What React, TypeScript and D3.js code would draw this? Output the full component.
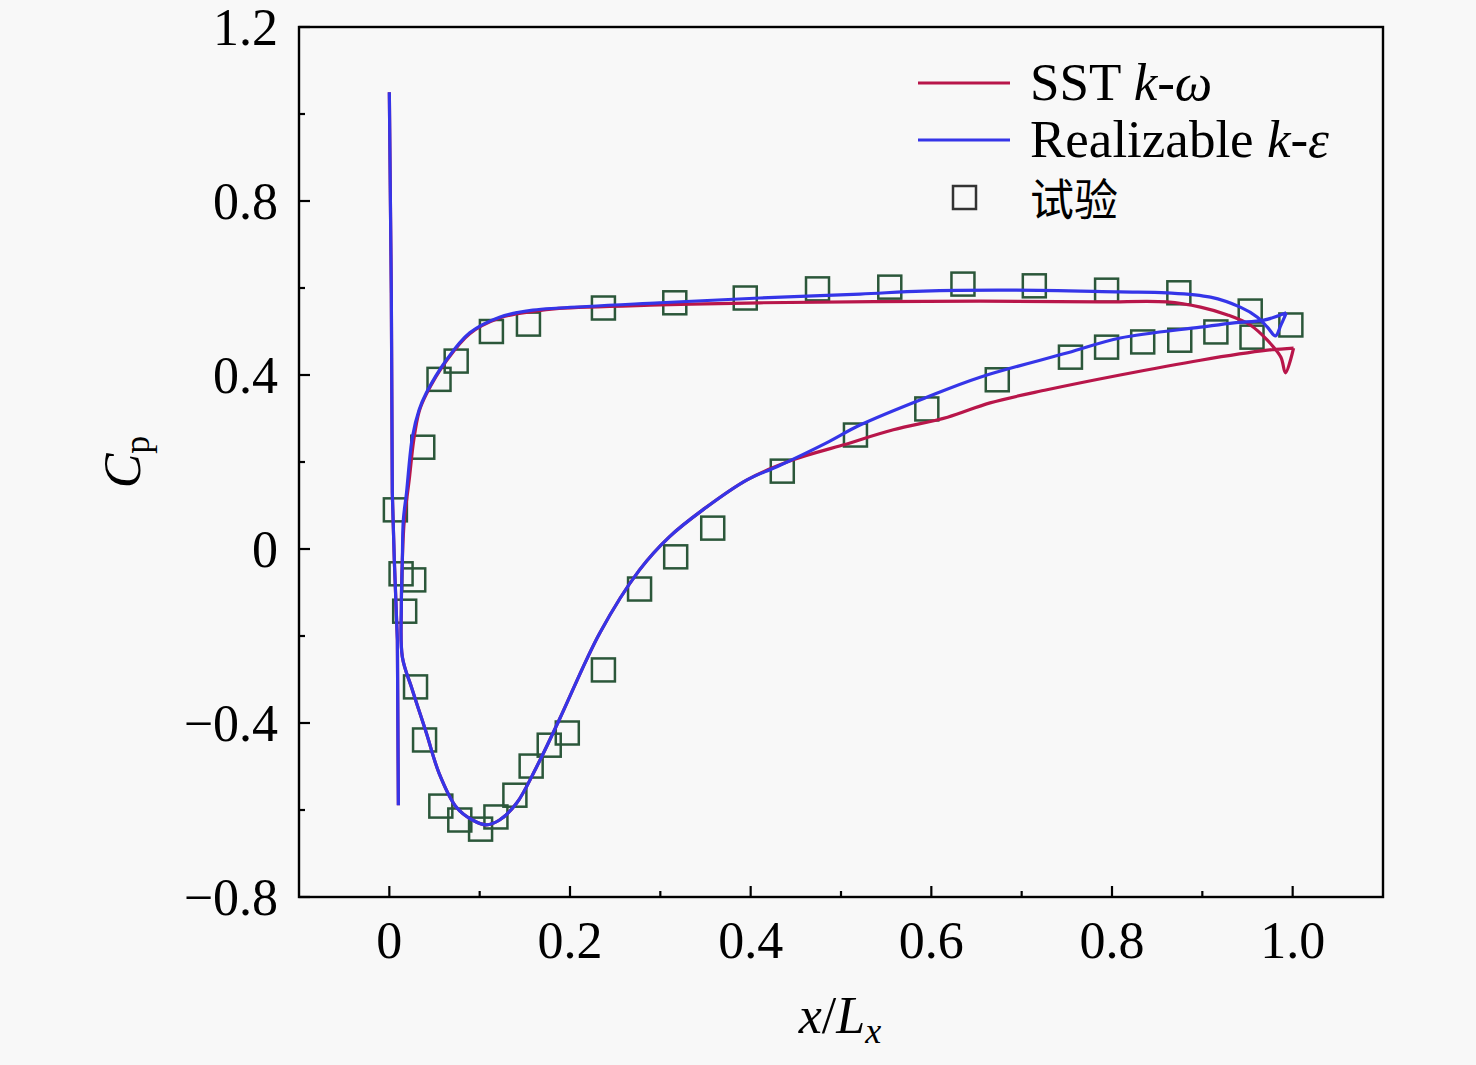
import React, { useEffect, useRef } from 'react';
import * as d3 from 'd3';

const W = 1476;
const H = 1065;
const margin = { left: 299, top: 27, right: 1476 - 1383, bottom: 1065 - 897 };

// axis ticks
const xTicks = [0, 0.2, 0.4, 0.6, 0.8, 1.0];
const xTickLabels = ['0', '0.2', '0.4', '0.6', '0.8', '1.0'];
const xMinor = [0.1, 0.3, 0.5, 0.7, 0.9];
const yTicks = [-0.8, -0.4, 0, 0.4, 0.8, 1.2];
const yTickLabels = ['\u22120.8', '\u22120.4', '0', '0.4', '0.8', '1.2'];
const yMinor = [-0.6, -0.2, 0.2, 0.6, 1.0];

// leading edge spike (both models)
const spikeX = [0.0, 0.0022, 0.0033, 0.0055, 0.0089, 0.010];
const spikeCp = [1.05, 0.588, 0.129, -0.025, -0.209, -0.589];

// Realizable k-epsilon: pressure side TE -> LE, then suction side LE -> TE
const rkeX = [
  0.993, 0.987, 0.981, 0.972, 0.961, 0.942, 0.909, 0.861, 0.809, 0.691, 0.591, 0.521, 0.41, 0.299,
  0.188, 0.159, 0.122, 0.089, 0.063, 0.041, 0.033, 0.0255, 0.019, 0.0155, 0.0144,
  0.0133, 0.0144, 0.0255, 0.041, 0.055, 0.074, 0.092, 0.1075, 0.122, 0.141, 0.163, 0.188, 0.233,
  0.277, 0.31, 0.347, 0.396, 0.429, 0.484, 0.521, 0.595, 0.654, 0.751, 0.809, 0.898, 0.935, 0.968, 0.993,
];
const rkeCp = [
  0.543, 0.515, 0.49, 0.51, 0.533, 0.556, 0.579, 0.589, 0.591, 0.595, 0.593, 0.586, 0.577, 0.566,
  0.554, 0.549, 0.533, 0.497, 0.434, 0.359, 0.32, 0.257, 0.129, 0.067, -0.025,
  -0.133, -0.248, -0.324, -0.423, -0.515, -0.593, -0.623, -0.634, -0.623, -0.584, -0.501, -0.393, -0.193,
  -0.048, 0.028, 0.09, 0.159, 0.189, 0.244, 0.285, 0.349, 0.395, 0.451, 0.485, 0.51, 0.52, 0.526, 0.543,
];

// SST k-omega
const sstX = [
  1.001, 0.992, 0.987, 0.972, 0.953, 0.928, 0.898, 0.861, 0.787, 0.654, 0.41, 0.299,
  0.188, 0.159, 0.122, 0.089, 0.063, 0.041, 0.033, 0.027, 0.022, 0.0166, 0.0144,
  0.0133, 0.0144, 0.0255, 0.041, 0.055, 0.074, 0.092, 0.1075, 0.122, 0.141, 0.163, 0.188, 0.233,
  0.277, 0.31, 0.347, 0.396, 0.447, 0.502, 0.558, 0.618, 0.665, 0.728, 0.809, 0.898, 0.972, 1.001,
];
const sstCp = [
  0.462, 0.405, 0.441, 0.48, 0.515, 0.538, 0.556, 0.568, 0.568, 0.57, 0.566, 0.561,
  0.553, 0.546, 0.531, 0.495, 0.432, 0.356, 0.316, 0.25, 0.159, 0.067, -0.025,
  -0.133, -0.248, -0.324, -0.423, -0.515, -0.593, -0.623, -0.634, -0.623, -0.584, -0.501, -0.393, -0.193,
  -0.048, 0.028, 0.09, 0.159, 0.205, 0.239, 0.274, 0.303, 0.336, 0.366, 0.4, 0.434, 0.457, 0.462,
];

// experiment (试验)
const expX = [
  0.0067, 0.037, 0.055, 0.074, 0.113, 0.154, 0.237, 0.316, 0.394, 0.474, 0.554, 0.635, 0.714, 0.794, 0.874, 0.953, 0.998,
  0.013, 0.027, 0.017, 0.029, 0.039, 0.057, 0.078, 0.101, 0.118, 0.139, 0.157, 0.177, 0.197, 0.237, 0.277, 0.317, 0.358,
  0.435, 0.516, 0.595, 0.673, 0.754, 0.794, 0.834, 0.875, 0.915, 0.955,
];
const expCp = [
  0.09, 0.234, 0.39, 0.432, 0.5, 0.517, 0.554, 0.566, 0.577, 0.598, 0.602, 0.609, 0.605, 0.595, 0.589, 0.547, 0.515,
  -0.057, -0.071, -0.143, -0.317, -0.439, -0.591, -0.623, -0.644, -0.616, -0.566, -0.499, -0.451, -0.423, -0.278, -0.092, -0.018, 0.048,
  0.179, 0.262, 0.322, 0.389, 0.441, 0.464, 0.476, 0.48, 0.499, 0.487,
];

const SST_COLOR = '#b8164a';
const RKE_COLOR = '#3535e8';
const EXP_COLOR = '#2b573a';
const FONT = '"Liberation Serif", "Times New Roman", serif';

export default function App() {
  const ref = useRef(null);

  useEffect(() => {
    const svg = d3.select(ref.current);
    svg.selectAll('*').remove();

    svg.append('rect').attr('width', W).attr('height', H).attr('fill', '#f8f8f8');

    const x = d3.scaleLinear().domain([-0.1, 1.1]).range([margin.left, W - margin.right]);
    const y = d3.scaleLinear().domain([-0.8, 1.2]).range([H - margin.bottom, margin.top]);

    const line = d3.line().x((d) => x(d[0])).y((d) => y(d[1]));
    const smooth = d3.line().x((d) => x(d[0])).y((d) => y(d[1])).curve(d3.curveCatmullRom.alpha(0.5));

    const spike = spikeX.map((v, i) => [v, spikeCp[i]]);
    const sst = sstX.map((v, i) => [v, sstCp[i]]);
    const rke = rkeX.map((v, i) => [v, rkeCp[i]]);
    const exp = expX.map((v, i) => [v, expCp[i]]);

    // experiment squares
    const sq = 23;
    svg.append('g')
      .selectAll('rect')
      .data(exp)
      .join('rect')
      .attr('x', (d) => x(d[0]) - sq / 2)
      .attr('y', (d) => y(d[1]) - sq / 2)
      .attr('width', sq)
      .attr('height', sq)
      .attr('fill', 'none')
      .attr('stroke', EXP_COLOR)
      .attr('stroke-width', 2.5);

    // curves
    [[sst, SST_COLOR], [rke, RKE_COLOR]].forEach(([data, color]) => {
      svg.append('path')
        .attr('d', line(spike))
        .attr('fill', 'none')
        .attr('stroke', color)
        .attr('stroke-width', 3.2);
      svg.append('path')
        .attr('d', smooth(data))
        .attr('fill', 'none')
        .attr('stroke', color)
        .attr('stroke-width', 3.2)
        .attr('stroke-linejoin', 'round');
    });

    // frame
    svg.append('rect')
      .attr('x', margin.left)
      .attr('y', margin.top)
      .attr('width', W - margin.left - margin.right)
      .attr('height', H - margin.top - margin.bottom)
      .attr('fill', 'none')
      .attr('stroke', '#000')
      .attr('stroke-width', 2.4);

    const yb = H - margin.bottom;
    // ticks point inward, left and bottom only
    const ax = svg.append('g').attr('stroke', '#000').attr('stroke-width', 2.2);
    xTicks.forEach((t) => {
      ax.append('line').attr('x1', x(t)).attr('x2', x(t)).attr('y1', yb).attr('y2', yb - 11);
    });
    xMinor.forEach((t) => {
      ax.append('line').attr('x1', x(t)).attr('x2', x(t)).attr('y1', yb).attr('y2', yb - 6);
    });
    yTicks.forEach((t) => {
      ax.append('line').attr('x1', margin.left).attr('x2', margin.left + 11).attr('y1', y(t)).attr('y2', y(t));
    });
    yMinor.forEach((t) => {
      ax.append('line').attr('x1', margin.left).attr('x2', margin.left + 6).attr('y1', y(t)).attr('y2', y(t));
    });

    const fs = 52;
    svg.append('g')
      .selectAll('text')
      .data(xTicks)
      .join('text')
      .attr('x', (d) => x(d))
      .attr('y', 958)
      .attr('text-anchor', 'middle')
      .style('font-family', FONT)
      .style('font-size', fs + 'px')
      .text((d, i) => xTickLabels[i]);

    svg.append('g')
      .selectAll('text')
      .data(yTicks)
      .join('text')
      .attr('x', 278)
      .attr('y', (d) => y(d) + 18)
      .attr('text-anchor', 'end')
      .style('font-family', FONT)
      .style('font-size', fs + 'px')
      .text((d, i) => yTickLabels[i]);

    // axis titles
    const xt = svg.append('text')
      .attr('x', 840)
      .attr('y', 1033)
      .attr('text-anchor', 'middle')
      .style('font-family', FONT)
      .style('font-size', fs + 'px');
    xt.append('tspan').style('font-style', 'italic').text('x');
    xt.append('tspan').text('/');
    xt.append('tspan').style('font-style', 'italic').text('L');
    xt.append('tspan').style('font-style', 'italic').style('font-size', '36px').attr('dy', 10).text('x');

    const yt = svg.append('text')
      .attr('transform', 'translate(140,462) rotate(-90)')
      .attr('text-anchor', 'middle')
      .style('font-family', FONT)
      .style('font-size', fs + 'px');
    yt.append('tspan').style('font-style', 'italic').text('C');
    yt.append('tspan').style('font-size', '36px').attr('dy', 9).text('p');

    // legend
    const lg = svg.append('g').style('font-family', FONT).style('font-size', '53px');
    lg.append('line').attr('x1', 918).attr('x2', 1010).attr('y1', 83).attr('y2', 83)
      .attr('stroke', SST_COLOR).attr('stroke-width', 3);
    lg.append('line').attr('x1', 918).attr('x2', 1010).attr('y1', 140).attr('y2', 140)
      .attr('stroke', RKE_COLOR).attr('stroke-width', 3);
    lg.append('rect').attr('x', 953).attr('y', 186).attr('width', 23).attr('height', 23)
      .attr('fill', 'none').attr('stroke', '#333').attr('stroke-width', 2.5);

    const t1 = lg.append('text').attr('x', 1030).attr('y', 100);
    t1.append('tspan').text('SST ');
    t1.append('tspan').style('font-style', 'italic').text('k');
    t1.append('tspan').text('-');
    t1.append('tspan').style('font-style', 'italic').text('\u03c9');

    const t2 = lg.append('text').attr('x', 1030).attr('y', 157);
    t2.append('tspan').text('Realizable ');
    t2.append('tspan').style('font-style', 'italic').text('k');
    t2.append('tspan').text('-');
    t2.append('tspan').style('font-style', 'italic').text('\u03b5');

    lg.append('text')
      .attr('x', 1030)
      .attr('y', 216)
      .style('font-family', '"Noto Sans CJK SC", sans-serif')
      .style('font-size', '44px')
      .text('试验');
  }, []);

  return (
    <svg
      ref={ref}
      width={W}
      height={H}
      style={{ position: 'absolute', left: 0, top: 0, display: 'block' }}
    />
  );
}
